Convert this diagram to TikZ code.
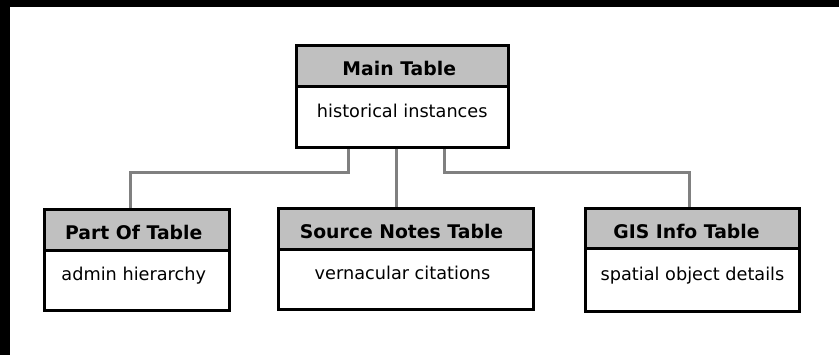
\documentclass[tikz,border=0pt]{standalone}
\usepackage{fontspec}
\setmainfont{DejaVu Sans}
\definecolor{hdrgray}{HTML}{C0C0C0}
\definecolor{conngray}{HTML}{808080}
\newcommand{\lsh}[2]{\kern-#1pt #2\kern#1pt}
\begin{document}
\begin{tikzpicture}[x=1pt,y=-1pt,
  hdr/.style={draw=black, line width=3pt, fill=hdrgray, inner sep=0pt,
    font=\fontsize{18.8}{20}\selectfont\bfseries, text height=18.5pt, text depth=0pt},
  bodybox/.style={draw=black, line width=3pt, fill=white, inner sep=0pt,
    font=\fontsize{17.7}{20}\selectfont, text height=10pt, text depth=10pt},
  conn/.style={draw=conngray, line width=3pt}]
\useasboundingbox (0,0) rectangle (839,355);
\fill[white] (0,0) rectangle (839,355);
\fill[black] (0,0) rectangle (839,7);
\fill[black] (0,0) rectangle (10,355);
% Main table
\node[hdr, minimum width=211.5pt, minimum height=41.5pt] (mainH) at (402.25,66.25) {\lsh{3}{Main Table}};
\node[bodybox, minimum width=211.5pt, minimum height=60.3pt] (mainB) at (402.25,117.15) {historical instances};
% Part Of table
\node[hdr, minimum width=185.5pt, minimum height=41.5pt] (partH) at (136.75,230.25) {\lsh{3}{Part Of Table}};
\node[bodybox, minimum width=185.5pt, minimum height=60pt] (partB) at (136.75,281) {\lsh{3}{admin hierarchy}};
% Source Notes table
\node[hdr, minimum width=255pt, minimum height=40.5pt] (srcH) at (405.5,229.25) {\lsh{4}{Source Notes Table}};
\node[bodybox, minimum width=255pt, minimum height=60.5pt] (srcB) at (405.5,279.75) {\lsh{3}{vernacular citations}};
% GIS Info table
\node[hdr, minimum width=214pt, minimum height=40pt] (gisH) at (692.5,229) {\lsh{6}{GIS Info Table}};
\node[bodybox, minimum width=214pt, minimum height=63pt] (gisB) at (692.5,280.5) {spatial object details};
% connectors
\draw[conn] ([xshift=-53.75pt]mainB.south) -- ++(0,23.7) -| ([xshift=-6.75pt]partH.north);
\draw[conn] ([xshift=-6.25pt]mainB.south) -- ([xshift=-9.5pt]srcH.north);
\draw[conn] ([xshift=42.25pt]mainB.south) -- ++(0,23.7) -| ([xshift=-2.8pt]gisH.north);
\end{tikzpicture}
\end{document}
